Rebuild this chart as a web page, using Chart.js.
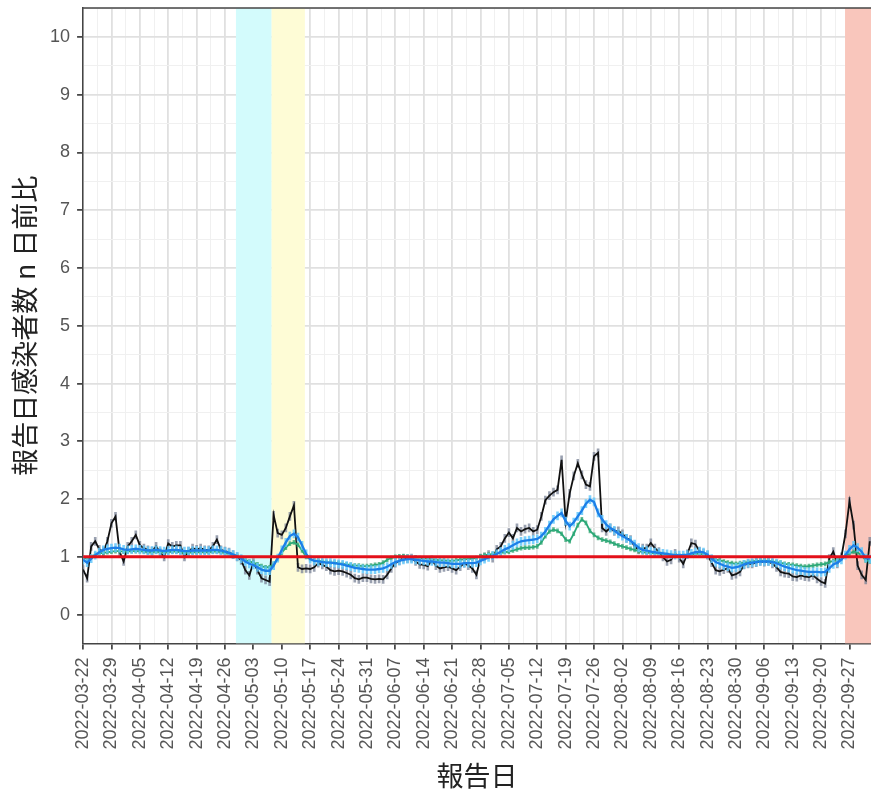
<!DOCTYPE html>
<html>
<head>
<meta charset="utf-8">
<script src="https://cdn.jsdelivr.net/npm/chart.js@4.4.1/dist/chart.umd.min.js"></script>
<style>
  html, body { margin: 0; padding: 0; background: #fff; }
</style>
</head>
<body>
<canvas id="chart" width="871" height="795"></canvas>
<script>
// day index 0 = 2022-03-22
const xTickLabels = [
  "2022-03-22", "2022-03-29", "2022-04-05", "2022-04-12", "2022-04-19", "2022-04-26",
  "2022-05-03", "2022-05-10", "2022-05-17", "2022-05-24", "2022-05-31", "2022-06-07",
  "2022-06-14", "2022-06-21", "2022-06-28", "2022-07-05", "2022-07-12", "2022-07-19",
  "2022-07-26", "2022-08-02", "2022-08-09", "2022-08-16", "2022-08-23", "2022-08-30",
  "2022-09-06", "2022-09-13", "2022-09-20", "2022-09-27",
];

// daily ratio (black)
const dailyRatio = [
  0.78, 0.63, 1.18, 1.27, 1.13, 1.09, 1.27, 1.58, 1.70, 1.09,
  0.92, 1.18, 1.27, 1.38, 1.20, 1.15, 1.12, 1.10, 1.18, 1.08,
  1.00, 1.23, 1.18, 1.20, 1.20, 1.00, 1.10, 1.15, 1.13, 1.15,
  1.12, 1.12, 1.18, 1.30, 1.12, 1.10, 1.08, 1.04, 1.00, 0.94,
  0.77, 0.68, 0.90, 0.77, 0.63, 0.60, 0.57, 1.72, 1.41, 1.38,
  1.50, 1.70, 1.89, 0.82, 0.79, 0.80, 0.79, 0.82, 0.89, 0.86,
  0.83, 0.77, 0.75, 0.76, 0.75, 0.72, 0.69, 0.63, 0.61, 0.64,
  0.64, 0.62, 0.61, 0.62, 0.61, 0.69, 0.80, 0.89, 0.93, 0.98,
  0.97, 0.98, 0.92, 0.87, 0.86, 0.84, 0.95, 0.85, 0.80, 0.82,
  0.83, 0.80, 0.77, 0.83, 0.89, 0.85, 0.80, 0.69, 0.98, 1.00,
  1.04, 0.98, 1.13, 1.18, 1.32, 1.42, 1.32, 1.50, 1.44, 1.48,
  1.50, 1.44, 1.47, 1.70, 1.98, 2.06, 2.12, 2.16, 2.68, 1.61,
  2.10, 2.40, 2.62, 2.42, 2.25, 2.22, 2.74, 2.80, 1.50, 1.44,
  1.50, 1.44, 1.45, 1.40, 1.32, 1.30, 1.18, 1.12, 1.15, 1.15,
  1.24, 1.15, 1.09, 1.00, 0.92, 0.95, 1.06, 0.98, 0.88, 1.05,
  1.24, 1.22, 1.10, 1.06, 1.03, 0.90, 0.77, 0.75, 0.78, 0.80,
  0.68, 0.70, 0.74, 0.86, 0.88, 0.88, 0.90, 0.92, 0.91, 0.92,
  0.88, 0.82, 0.74, 0.72, 0.71, 0.66, 0.65, 0.68, 0.66, 0.65,
  0.68, 0.62, 0.57, 0.54, 0.97, 1.09, 0.88, 1.00, 1.40, 1.96,
  1.55, 0.85, 0.69, 0.60, 1.27,
];

// smoothed ratio (blue)
const smoothRatio = [
  0.95, 0.90, 0.97, 1.03, 1.08, 1.12, 1.14, 1.15, 1.16, 1.15,
  1.13, 1.12, 1.13, 1.14, 1.13, 1.12, 1.11, 1.11, 1.12, 1.11,
  1.10, 1.11, 1.12, 1.12, 1.11, 1.10, 1.10, 1.11, 1.11, 1.11,
  1.11, 1.11, 1.12, 1.12, 1.11, 1.09, 1.07, 1.04, 1.01, 0.97,
  0.92, 0.88, 0.86, 0.82, 0.78, 0.76, 0.76, 0.85, 0.98, 1.12,
  1.25, 1.36, 1.40, 1.34, 1.20, 1.05, 0.96, 0.93, 0.92, 0.91,
  0.90, 0.90, 0.89, 0.88, 0.87, 0.85, 0.83, 0.81, 0.80, 0.79,
  0.78, 0.78, 0.78, 0.79, 0.80, 0.83, 0.87, 0.91, 0.93, 0.95,
  0.96, 0.96, 0.95, 0.94, 0.93, 0.92, 0.92, 0.91, 0.90, 0.90,
  0.89, 0.88, 0.88, 0.88, 0.89, 0.89, 0.89, 0.90, 0.93, 0.96,
  0.99, 1.02, 1.05, 1.09, 1.13, 1.16, 1.20, 1.24, 1.27, 1.28,
  1.29, 1.30, 1.31, 1.36, 1.44, 1.55, 1.65, 1.71, 1.76, 1.62,
  1.53, 1.60, 1.70, 1.80, 1.92, 1.99, 1.95, 1.76, 1.65, 1.56,
  1.50, 1.46, 1.40, 1.36, 1.32, 1.28, 1.22, 1.16, 1.12, 1.11,
  1.09, 1.08, 1.07, 1.06, 1.05, 1.04, 1.03, 1.03, 1.03, 1.04,
  1.06, 1.08, 1.09, 1.08, 1.04, 0.97, 0.91, 0.88, 0.85, 0.83,
  0.81, 0.82, 0.84, 0.87, 0.89, 0.90, 0.91, 0.92, 0.92, 0.92,
  0.91, 0.89, 0.86, 0.83, 0.81, 0.79, 0.77, 0.76, 0.75, 0.74,
  0.74, 0.74, 0.73, 0.74, 0.80, 0.87, 0.90, 0.95, 1.03, 1.13,
  1.20, 1.16, 1.09, 0.98, 0.96,
];

// weekly ratio (green)
const weeklyRatio = [
  0.98, 0.97, 1.00, 1.04, 1.06, 1.07, 1.08, 1.09, 1.10, 1.10,
  1.09, 1.09, 1.10, 1.10, 1.10, 1.09, 1.08, 1.08, 1.09, 1.08,
  1.08, 1.08, 1.09, 1.09, 1.08, 1.07, 1.07, 1.08, 1.08, 1.08,
  1.08, 1.08, 1.09, 1.09, 1.08, 1.07, 1.05, 1.03, 1.01, 0.98,
  0.95, 0.92, 0.90, 0.87, 0.84, 0.82, 0.82, 0.88, 0.97, 1.07,
  1.16, 1.23, 1.25, 1.21, 1.11, 1.00, 0.96, 0.94, 0.93, 0.92,
  0.91, 0.90, 0.90, 0.89, 0.88, 0.87, 0.86, 0.85, 0.85, 0.84,
  0.84, 0.85, 0.86, 0.87, 0.90, 0.95, 0.98, 1.00, 1.01, 1.01,
  1.00, 0.99, 0.99, 0.98, 0.97, 0.97, 0.96, 0.95, 0.94, 0.94,
  0.93, 0.93, 0.94, 0.95, 0.96, 0.96, 0.97, 0.98, 1.01, 1.03,
  1.04, 1.05, 1.06, 1.07, 1.08, 1.09, 1.11, 1.13, 1.15, 1.16,
  1.16, 1.17, 1.18, 1.25, 1.36, 1.44, 1.47, 1.45, 1.40, 1.30,
  1.27, 1.40, 1.55, 1.65, 1.59, 1.45, 1.38, 1.33, 1.30, 1.28,
  1.26, 1.23, 1.20, 1.18, 1.16, 1.14, 1.12, 1.10, 1.08, 1.07,
  1.07, 1.06, 1.06, 1.05, 1.04, 1.03, 1.03, 1.02, 1.02, 1.03,
  1.04, 1.05, 1.05, 1.04, 1.02, 0.99, 0.95, 0.94, 0.92, 0.90,
  0.89, 0.88, 0.89, 0.90, 0.91, 0.92, 0.93, 0.93, 0.94, 0.93,
  0.92, 0.91, 0.90, 0.88, 0.87, 0.86, 0.85, 0.84, 0.83, 0.84,
  0.85, 0.86, 0.87, 0.88, 0.91, 0.93, 0.95, 0.98, 1.02, 1.06,
  1.09, 1.08, 1.02, 0.94, 0.92,
];

// half widths of the error bars
const errDaily = 0.07;
const errSmooth = 0.07;
const errWeekly = 0.035;

const referenceLevel = 1;

// shaded periods, in day index
const shadeStart = [37.7, 46.5, 187.9];
const shadeEnd = [46.5, 54.7, 200];
const shadeColors = ["#d3fbfc", "#fefcd6", "#f9c6bc"];

const X_MAX = 194.3;
const FONT = "'Liberation Sans', 'Noto Sans CJK JP', sans-serif";

const points = (arr) => arr.map((v, i) => ({ x: i, y: v }));
const ranges = (arr, e) => arr.map((v, i) => ({ x: i, y: [v - e, v + e] }));

const isWhole = (v, step) => Math.abs(v / step - Math.round(v / step)) < 1e-6;

const shadePlugin = {
  id: "shade",
  beforeDatasetsDraw(chart) {
    const { ctx, chartArea: a, scales } = chart;
    ctx.save();
    ctx.beginPath();
    ctx.rect(a.left, a.top, a.right - a.left, a.bottom - a.top);
    ctx.clip();
    shadeStart.forEach((s, i) => {
      const x0 = scales.x.getPixelForValue(s);
      const x1 = scales.x.getPixelForValue(shadeEnd[i]);
      ctx.fillStyle = shadeColors[i];
      ctx.fillRect(x0, a.top, x1 - x0, a.bottom - a.top);
    });
    ctx.restore();
  },
  afterDraw(chart) {
    const { ctx, chartArea: a } = chart;
    ctx.save();
    ctx.strokeStyle = "#444";
    ctx.lineWidth = 1.5;
    ctx.beginPath();
    ctx.moveTo(a.left, a.top);
    ctx.lineTo(a.right, a.top);
    ctx.stroke();
    ctx.restore();
  },
};

new Chart(document.getElementById("chart"), {
  type: "line",
  data: {
    datasets: [
      {
        type: "line",
        data: [{ x: 0, y: referenceLevel }, { x: X_MAX, y: referenceLevel }],
        borderColor: "#e3101a",
        borderWidth: 3,
        pointRadius: 0,
        order: 0,
      },
      {
        type: "line",
        data: points(smoothRatio),
        borderColor: "#1c7fe8",
        borderWidth: 2.3,
        pointRadius: 0,
        order: 1,
      },
      {
        type: "bar",
        data: ranges(smoothRatio, errSmooth),
        backgroundColor: "rgba(100, 200, 250, 0.85)",
        barThickness: 2,
        grouped: false,
        order: 2,
      },
      {
        type: "line",
        data: points(weeklyRatio),
        borderColor: "#2aa877",
        borderWidth: 1.8,
        pointRadius: 0,
        order: 3,
      },
      {
        type: "bar",
        data: ranges(weeklyRatio, errWeekly),
        backgroundColor: "rgba(60, 170, 120, 0.8)",
        barThickness: 2,
        grouped: false,
        order: 4,
      },
      {
        type: "line",
        data: points(dailyRatio),
        borderColor: "#111",
        borderWidth: 1.8,
        pointRadius: 0,
        order: 5,
      },
      {
        type: "bar",
        data: ranges(dailyRatio, errDaily),
        backgroundColor: "rgba(120, 130, 150, 0.75)",
        barThickness: 2,
        grouped: false,
        order: 6,
      },
    ],
  },
  options: {
    responsive: false,
    animation: false,
    devicePixelRatio: 1,
    layout: { padding: { top: 8, right: 0, bottom: 0, left: 2 } },
    plugins: { legend: { display: false }, tooltip: { enabled: false } },
    scales: {
      x: {
        type: "linear",
        min: 0,
        max: X_MAX,
        offset: false,
        afterBuildTicks: (scale) => {
          scale.ticks = scale.ticks.filter((t) => isWhole(t.value, 3.5));
        },
        afterFit: (scale) => {
          scale.paddingLeft = 0;
          scale.paddingRight = 0;
        },
        ticks: {
          stepSize: 3.5,
          autoSkip: false,
          maxRotation: 90,
          minRotation: 90,
          padding: 8,
          color: "#555",
          font: { family: FONT, size: 18 },
          callback: (v) => (isWhole(v, 7) ? xTickLabels[Math.round(v / 7)] : ""),
        },
        grid: {
          offset: false,
          tickLength: 6,
          color: (c) => (c.tick && isWhole(c.tick.value, 7) ? "#e0e0e0" : "#f0f0f0"),
          lineWidth: (c) => (c.tick && isWhole(c.tick.value, 7) ? 1.8 : 1),
          tickColor: (c) => (c.tick && isWhole(c.tick.value, 7) ? "#333" : "rgba(0,0,0,0)"),
          tickWidth: 1.6,
        },
        border: { display: true, color: "#444", width: 1.5 },
        title: {
          display: true,
          text: "報告日",
          color: "#222",
          font: { family: FONT, size: 27 },
          padding: { top: 5, bottom: 0 },
        },
      },
      y: {
        type: "linear",
        min: -0.5,
        max: 10.5,
        afterFit: (scale) => {
          scale.paddingTop = 0;
          scale.paddingBottom = 0;
        },
        ticks: {
          stepSize: 0.5,
          padding: 7,
          color: "#555",
          font: { family: FONT, size: 18 },
          callback: (v) => (isWhole(v, 1) ? String(Math.round(v)) : ""),
        },
        grid: {
          tickLength: 6,
          color: (c) => (c.tick && isWhole(c.tick.value, 1) ? "#e0e0e0" : "#f0f0f0"),
          lineWidth: (c) => (c.tick && isWhole(c.tick.value, 1) ? 1.8 : 1),
          tickColor: (c) => (c.tick && isWhole(c.tick.value, 1) ? "#333" : "rgba(0,0,0,0)"),
          tickWidth: 1.6,
        },
        border: { display: true, color: "#444", width: 1.5 },
        title: {
          display: true,
          text: "報告日感染者数 n 日前比",
          color: "#222",
          font: { family: FONT, size: 27, lineHeight: 1.15 },
          padding: { top: 10, bottom: 0 },
        },
      },
    },
  },
  plugins: [shadePlugin],
});
</script>
</body>
</html>
